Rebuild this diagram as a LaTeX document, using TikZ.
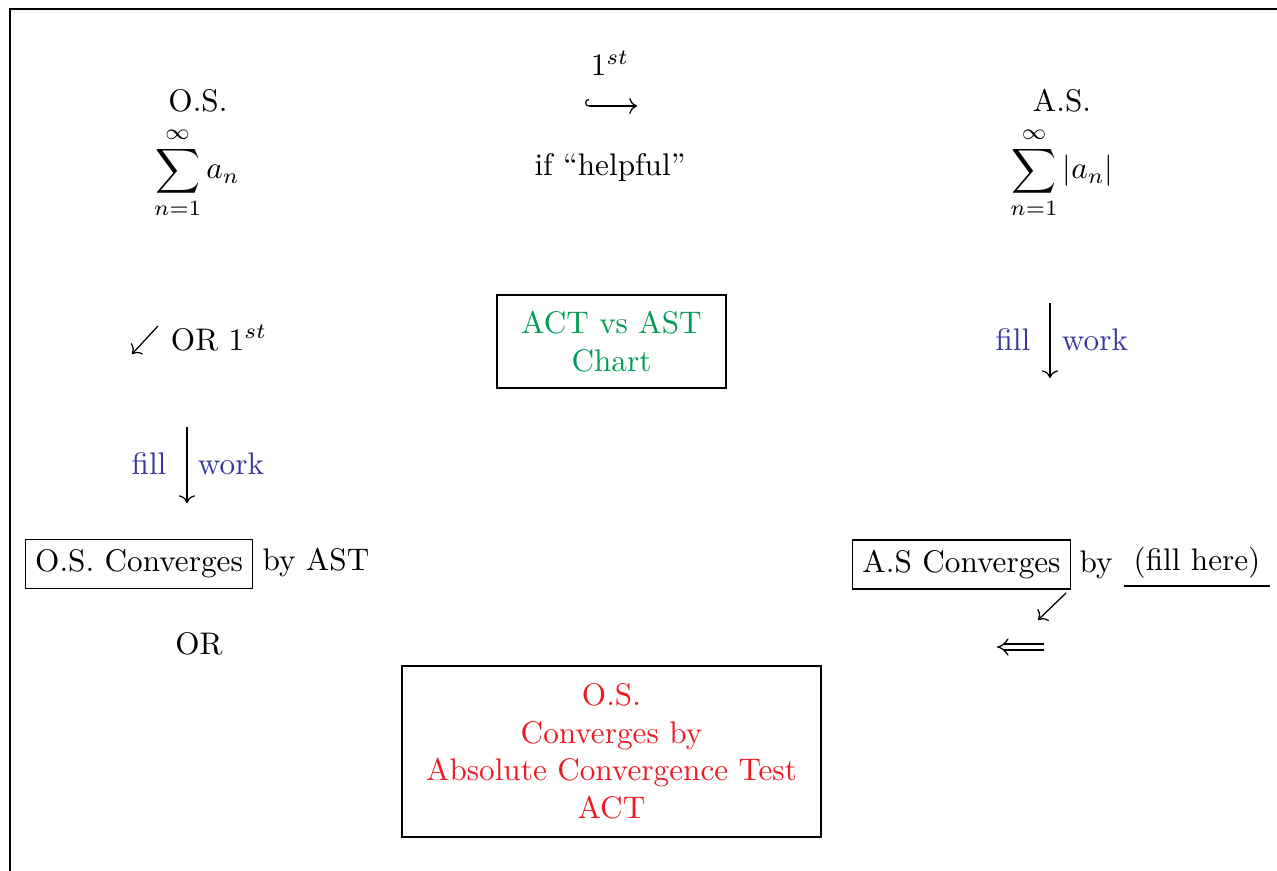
\documentclass[tikz,border=0pt]{standalone}
\usetikzlibrary{arrows.meta}
\definecolor{chartgreen}{RGB}{0,155,85}
\definecolor{fillblue}{RGB}{55,55,160}
\definecolor{actred}{RGB}{237,28,36}
\begin{document}
\begin{tikzpicture}[x=0.3202pt,y=-0.3202pt,
  txt/.style={inner sep=0pt},
  hint/.style={inner sep=0pt, text=fillblue},
  boxed/.style={draw, inner sep=3.2pt},
  arr/.style={->},
]
\useasboundingbox (0,0) rectangle (1277,871);
\draw (10,871) -- (10,9) -- (1277,9);

% top row
\node[txt] (oslbl) at (198,101) {O.S.};
\node[txt] (ossum) at (197,173) {$\displaystyle\sum_{n=1}^{\infty} a_n$};
\node[txt] (first) at (610,63) {$1^{st}$};
\coordinate (h1) at (585,106);
\coordinate (h2) at (637,106);
\draw[{Hooks[right]}->] (h1) -- (h2);
\node[txt] (helpful) at (610,168) {if ``helpful''};
\node[txt] (aslbl) at (1062,101) {A.S.};
\node[txt] (assum) at (1062,173) {$\displaystyle\sum_{n=1}^{\infty} |a_n|$};

% second row
\coordinate (swa) at (158,326);
\coordinate (swb) at (132,354);
\draw[arr] (swa) -- (swb);
\node[txt] (orfirst) at (219,338) {OR $1^{st}$};
\node[boxed, text=chartgreen, align=center, minimum width={229*0.3202pt}, minimum height={93*0.3202pt}] (chart) at (611.5,341.5) {ACT vs AST\\Chart};
\coordinate (ra) at (1050,303);
\coordinate (rb) at (1050,378);
\draw[arr] (ra) -- (rb);
\node[hint] (rfill) at (1013,339) {fill};
\node[hint] (rwork) at (1095,340) {work};

% third row
\coordinate (la) at (187,427);
\coordinate (lb) at (187,503);
\draw[arr] (la) -- (lb);
\node[hint] (lfill) at (149,463) {fill};
\node[hint] (lwork) at (231,464) {work};

% fourth row
\node[boxed] (osconv) at (139,564) {O.S. Converges};
\node[txt] (byast) at (316,563) {by AST};
\node[boxed] (asconv) at (961.5,564.5) {A.S Converges};
\node[txt] (by) at (1096,565) {by};
\node[txt] (fillhere) at (1197,563) {(fill here)};
\coordinate (ua) at (1124,586);
\coordinate (ub) at (1270,586);
\draw (ua) -- (ub);
\coordinate (swc) at (1066,593);
\coordinate (swd) at (1038,620);
\draw[arr] (swc) -- (swd);

% fifth row
\node[txt] (or) at (199,644) {OR};
\coordinate (lla) at (997,647);
\coordinate (llb) at (1044,647);
\draw[double, double equal sign distance, Implies-] (lla) -- (llb);

\node[boxed, text=actred, align=center, minimum width={419*0.3202pt}, minimum height={171*0.3202pt}] (act) at (611.5,751.5) {O.S.\\Converges by\\Absolute Convergence Test\\ACT};
\end{tikzpicture}
\end{document}
